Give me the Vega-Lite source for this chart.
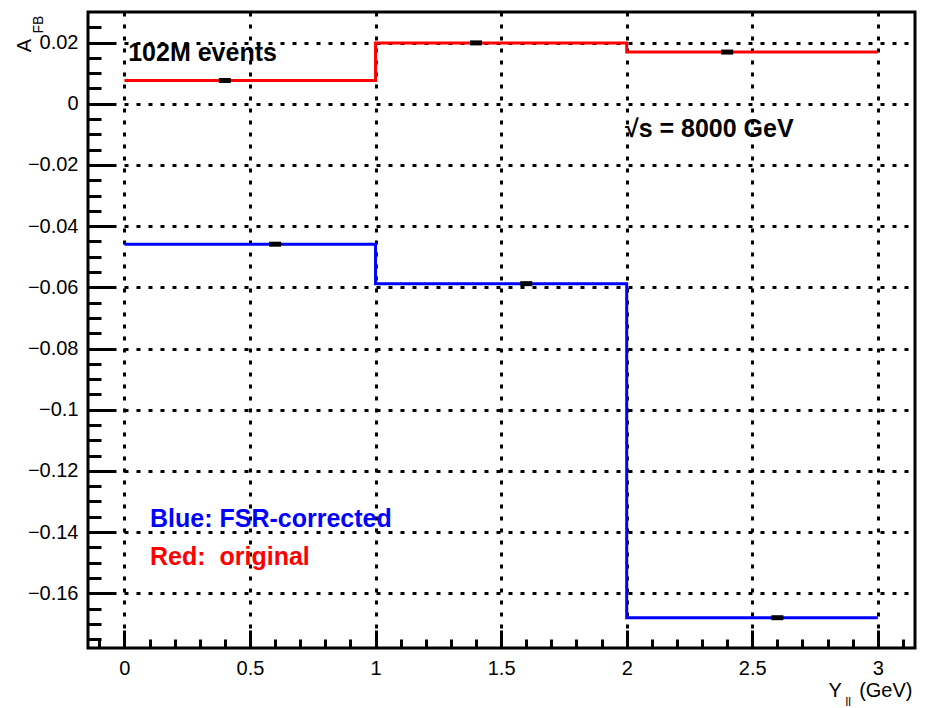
{
  "$schema": "https://vega.github.io/schema/vega-lite/v6.json",
  "width": 827,
  "height": 636,
  "autosize": {"type": "none"},
  "padding": {"left": 88, "top": 12, "right": 16, "bottom": 60},
  "background": "white",
  "config": {
    "view": {"stroke": "black", "strokeWidth": 3},
    "font": "Liberation Sans"
  },
  "datasets": {
    "steps": [
      {"series": "original", "x": 0, "y": 0.0076},
      {"series": "original", "x": 1, "y": 0.0199},
      {"series": "original", "x": 2, "y": 0.0169},
      {"series": "original", "x": 3, "y": 0.0169},
      {"series": "FSR-corrected", "x": 0, "y": -0.0459},
      {"series": "FSR-corrected", "x": 1, "y": -0.0588},
      {"series": "FSR-corrected", "x": 2, "y": -0.168},
      {"series": "FSR-corrected", "x": 3, "y": -0.168}
    ],
    "points": [
      {"series": "original", "x": 0.4, "y": 0.0076},
      {"series": "original", "x": 1.4, "y": 0.0199},
      {"series": "original", "x": 2.4, "y": 0.0169},
      {"series": "FSR-corrected", "x": 0.6, "y": -0.0459},
      {"series": "FSR-corrected", "x": 1.6, "y": -0.0588},
      {"series": "FSR-corrected", "x": 2.6, "y": -0.168}
    ],
    "labels": [
      {"key": "events", "x": 0.015, "y": 0.0141, "text": "102M events"},
      {"key": "energy", "x": 1.993, "y": -0.0109, "text": "√s = 8000 GeV"},
      {"key": "blue", "x": 0.102, "y": -0.1383, "text": "Blue: FSR-corrected"},
      {"key": "red", "x": 0.102, "y": -0.1508, "text": "Red: \u00a0original"}
    ]
  },
  "layer": [
    {
      "data": {"name": "steps"},
      "mark": {"type": "line", "interpolate": "step-after", "strokeWidth": 3},
      "encoding": {
        "x": {
          "field": "x", "type": "quantitative",
          "scale": {"domain": [-0.145, 3.148], "nice": false, "zero": false},
          "axis": {
            "orient": "bottom",
            "values": [0, 0.5, 1, 1.5, 2, 2.5, 3],
            "format": "~g",
            "grid": true, "gridColor": "black", "gridWidth": 3, "gridDash": [4, 8], "gridOpacity": 1,
            "domain": false,
            "ticks": true, "tickSize": -18, "tickWidth": 3, "tickColor": "black",
            "labelFont": "Liberation Sans", "labelFontSize": 20, "labelColor": "black", "labelPadding": 28,
            "title": "(GeV)",
            "titleFont": "Liberation Sans", "titleFontSize": 20, "titleFontWeight": "normal", "titleColor": "black",
            "titleAlign": "right", "titleBaseline": "alphabetic", "titleX": 824, "titleY": 48
          }
        },
        "y": {
          "field": "y", "type": "quantitative",
          "scale": {"domain": [-0.1779, 0.03], "nice": false, "zero": false},
          "axis": {
            "orient": "left",
            "values": [-0.16, -0.14, -0.12, -0.1, -0.08, -0.06, -0.04, -0.02, 0, 0.02],
            "format": "~g",
            "grid": true, "gridColor": "black", "gridWidth": 3, "gridDash": [4, 8], "gridOpacity": 1,
            "domain": false,
            "ticks": true, "tickSize": -27, "tickWidth": 3, "tickColor": "black",
            "labelFont": "Liberation Sans", "labelFontSize": 20, "labelColor": "black", "labelPadding": 37,
            "title": "A",
            "titleFont": "Liberation Sans", "titleFontSize": 20, "titleFontWeight": "normal", "titleColor": "black",
            "titleAngle": -90, "titleAlign": "center", "titleBaseline": "alphabetic", "titleX": -58, "titleY": 33
          }
        },
        "color": {
          "field": "series", "type": "nominal",
          "scale": {"domain": ["original", "FSR-corrected"], "range": ["#ff0000", "#0000ff"]},
          "legend": null
        }
      }
    },
    {
      "data": {"name": "points"},
      "mark": {"type": "tick", "orient": "horizontal", "size": 12, "thickness": 5, "color": "black", "opacity": 1},
      "encoding": {
        "x": {
          "field": "x", "type": "quantitative",
          "scale": {"domain": [-0.145, 3.148], "nice": false, "zero": false},
          "axis": {
            "orient": "bottom",
            "values": [-0.1, 0, 0.1, 0.2, 0.3, 0.4, 0.5, 0.6, 0.7, 0.8, 0.9, 1, 1.1, 1.2, 1.3, 1.4, 1.5, 1.6, 1.7, 1.8, 1.9, 2, 2.1, 2.2, 2.3, 2.4, 2.5, 2.6, 2.7, 2.8, 2.9, 3, 3.1],
            "labels": false, "grid": false, "domain": false,
            "ticks": true, "tickSize": -9, "tickWidth": 3, "tickColor": "black",
            "title": "ll",
            "titleFont": "Liberation Sans", "titleFontSize": 12, "titleFontWeight": "normal", "titleColor": "black",
            "titleAlign": "left", "titleBaseline": "alphabetic", "titleX": 757, "titleY": 57
          }
        },
        "y": {
          "field": "y", "type": "quantitative",
          "scale": {"domain": [-0.1779, 0.03], "nice": false, "zero": false},
          "axis": {
            "orient": "left",
            "values": [-0.175, -0.17, -0.165, -0.16, -0.155, -0.15, -0.145, -0.14, -0.135, -0.13, -0.125, -0.12, -0.115, -0.11, -0.105, -0.1, -0.095, -0.09, -0.085, -0.08, -0.075, -0.07, -0.065, -0.06, -0.055, -0.05, -0.045, -0.04, -0.035, -0.03, -0.025, -0.02, -0.015, -0.01, -0.005, 0, 0.005, 0.01, 0.015, 0.02, 0.025],
            "labels": false, "grid": false, "domain": false,
            "ticks": true, "tickSize": -13, "tickWidth": 3, "tickColor": "black",
            "title": "FB",
            "titleFont": "Liberation Sans", "titleFontSize": 14, "titleFontWeight": "normal", "titleColor": "black",
            "titleAngle": -90, "titleAlign": "center", "titleBaseline": "alphabetic", "titleX": -46, "titleY": 12
          }
        }
      }
    },
    {
      "data": {"name": "labels"},
      "transform": [{"filter": "datum.key === 'events' || datum.key === 'energy'"}],
      "mark": {"type": "text", "font": "Liberation Sans", "fontSize": 25, "fontWeight": "bold", "align": "left", "baseline": "alphabetic", "color": "black"},
      "encoding": {
        "x": {
          "field": "x", "type": "quantitative",
          "axis": {
            "orient": "bottom",
            "labels": false, "ticks": false, "grid": false, "domain": false,
            "title": "Y",
            "titleFont": "Liberation Sans", "titleFontSize": 20, "titleFontWeight": "normal", "titleColor": "black",
            "titleAlign": "left", "titleBaseline": "alphabetic", "titleX": 740, "titleY": 48
          }
        },
        "y": {"field": "y", "type": "quantitative", "axis": null},
        "text": {"field": "text"}
      }
    },
    {
      "data": {"name": "labels"},
      "transform": [{"filter": "datum.key === 'blue'"}],
      "mark": {"type": "text", "font": "Liberation Sans", "fontSize": 25, "fontWeight": "bold", "align": "left", "baseline": "alphabetic", "color": "#0000ff"},
      "encoding": {
        "x": {"field": "x", "type": "quantitative", "axis": null},
        "y": {"field": "y", "type": "quantitative", "axis": null},
        "text": {"field": "text"}
      }
    },
    {
      "data": {"name": "labels"},
      "transform": [{"filter": "datum.key === 'red'"}],
      "mark": {"type": "text", "font": "Liberation Sans", "fontSize": 25, "fontWeight": "bold", "align": "left", "baseline": "alphabetic", "color": "#ff0000"},
      "encoding": {
        "x": {"field": "x", "type": "quantitative", "axis": null},
        "y": {"field": "y", "type": "quantitative", "axis": null},
        "text": {"field": "text"}
      }
    }
  ],
  "resolve": {"axis": {"x": "independent", "y": "independent"}}
}
